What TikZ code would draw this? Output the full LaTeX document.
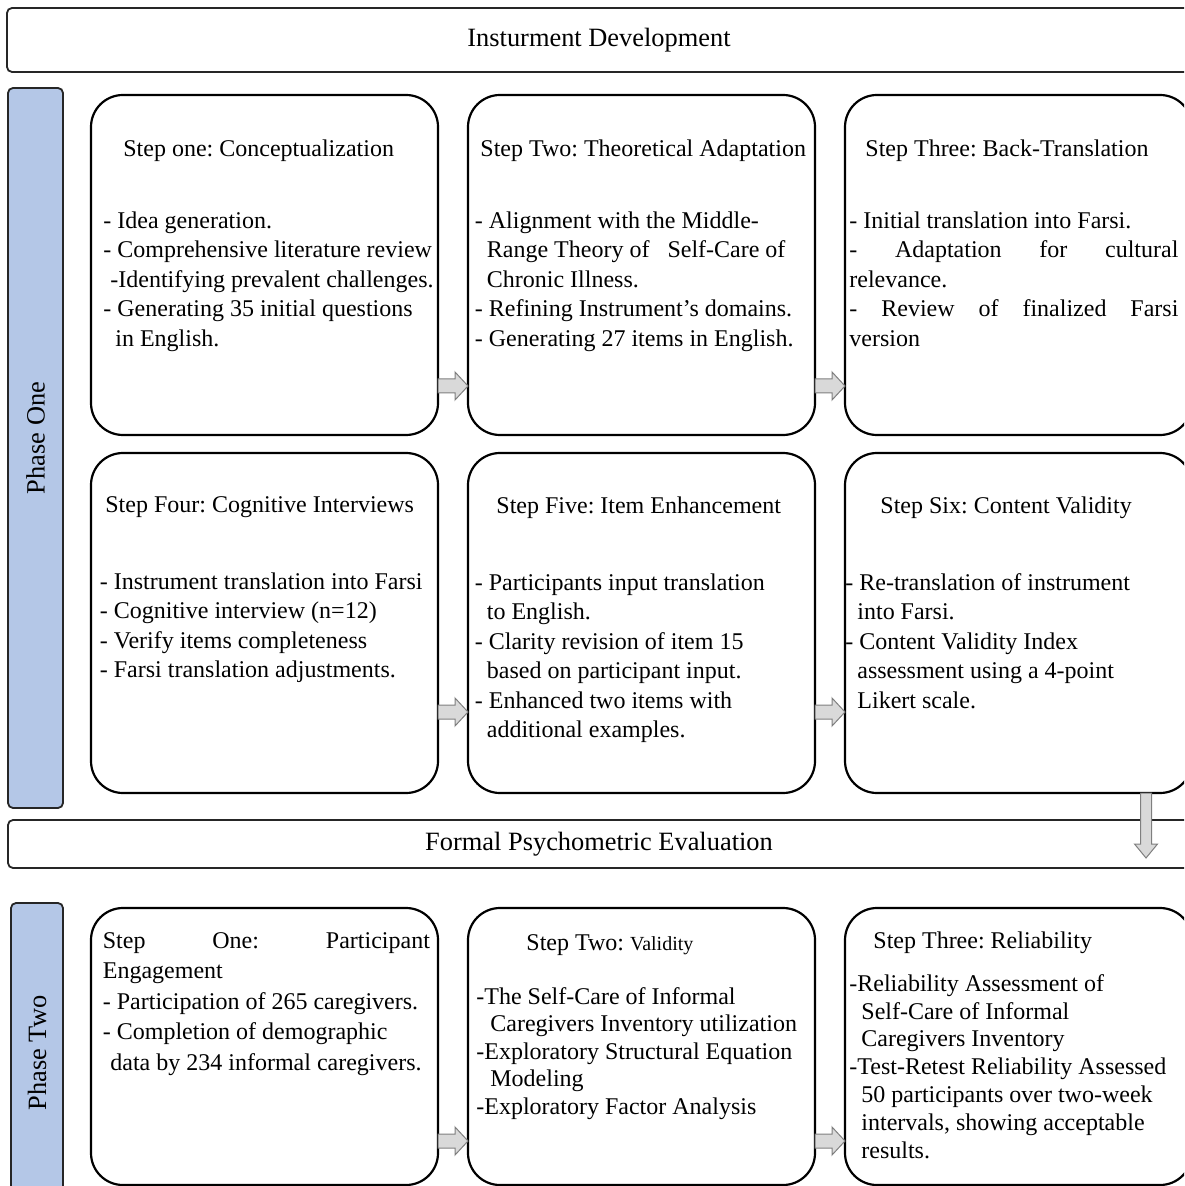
\documentclass[tikz,border=0pt]{standalone}
\usepackage{fontspec}
\setmainfont{Liberation Serif}
\usepackage{tikz}
\usetikzlibrary{calc,positioning}
\frenchspacing

\definecolor{phaseblue}{HTML}{B4C7E7}
\definecolor{arrowfill}{HTML}{D9D9D9}
\definecolor{arrowline}{HTML}{7F7F7F}

\newcommand{\bodyfont}{\fontsize{12pt}{14.75pt}\selectfont}
\newcommand{\headfont}{\fontsize{13.2pt}{15pt}\selectfont}

\tikzstyle{banner} = [rectangle, rounded corners=2.5pt, draw=black!85, line width=0.9pt, font=\headfont]
\tikzstyle{phasebar} = [rectangle, rounded corners=2.5pt, draw=black!85, line width=0.9pt, fill=phaseblue, minimum width=27.5pt]
\tikzstyle{phaselabel} = [rotate=90, inner sep=0pt, font=\headfont]
\tikzstyle{stepbox} = [rectangle, rounded corners=16pt, draw=black, line width=1.1pt, outer sep=0pt, minimum width=173.5pt, minimum height=170pt]
\tikzstyle{steptitle} = [anchor=north west, inner sep=0pt, font=\bodyfont]
\tikzstyle{steptext} = [anchor=north west, inner sep=0pt, align=left, font=\bodyfont]
\tikzstyle{rblock} = [fill=arrowfill, draw=arrowline, line width=0.5pt,
    to path={++(0,3.5pt) -- ++(8.5pt,0) -- ++(0,3.5pt) -- (\tikztotarget) -- ++(-6.5pt,-7pt) -- ++(0,3.5pt) -- ++(-8.5pt,0) -- cycle}]
\tikzstyle{dblock} = [fill=arrowfill, draw=arrowline, line width=0.5pt,
    to path={++(-2.75pt,0) -- ++(0,-25.5pt) -- ++(-3pt,0) -- (\tikztotarget) -- ++(5.75pt,7pt) -- ++(-3pt,0) -- ++(0,25.5pt) -- cycle}]

\begin{document}
\begin{tikzpicture}[x=0.5pt, y=0.5pt]
    \useasboundingbox (0,0) rectangle (1184,-1186);
    \clip (0,0) rectangle (1184,-1186);

    % banners and phase bars
    \node (dev) [banner, minimum width=592pt, minimum height=32pt] at (599,-40) {Insturment Development};
    \node (eval) [banner, minimum width=591pt, minimum height=24pt] at (599,-844) {Formal Psychometric Evaluation};
    \node (ph1) [phasebar, minimum height=360pt] at (35.5,-448) {};
    \node (ph2) [phasebar, minimum width=26pt, minimum height=148.5pt] at (37,-1051.5) {};
    \node (ph1lbl) [phaselabel] at (35.5,-438) {Phase One};
    \node (ph2lbl) [phaselabel] at (37,-1053) {Phase Two};

    % phase one steps
    \node (s1) [stepbox] at (264.5,-265) {};
    \node (s2) [stepbox, right=15pt of s1] {};
    \node (s3) [stepbox, right=15pt of s2] {};
    \node (s4) [stepbox, below=9pt of s1] {};
    \node (s5) [stepbox, right=15pt of s4] {};
    \node (s6) [stepbox, right=15pt of s5] {};

    % phase two steps
    \node (t1) [stepbox, minimum height=138.5pt] at (264.5,-1046.5) {};
    \node (t2) [stepbox, minimum height=138.5pt, right=15pt of t1] {};
    \node (t3) [stepbox, minimum height=138.5pt, right=15pt of t2] {};

    \node (s1h) [steptitle] at ([shift={(32,-44)}]s1.north west) {Step one: Conceptualization};
    \node (s1b) [steptext] at ([shift={(12,-116)}]s1.north west) {- Idea generation.\\- Comprehensive literature review\\\hspace*{3.5pt}-Identifying prevalent challenges.\\- Generating 35 initial questions\\\hspace*{6pt}in English.};

    \node (s2h) [steptitle] at ([shift={(12,-44)}]s2.north west) {Step Two: Theoretical Adaptation};
    \node (s2b) [steptext] at ([shift={(6.5,-116)}]s2.north west) {- Alignment with the Middle-\\\hspace*{6pt}Range Theory of\ \ \ Self-Care of\\\hspace*{6pt}Chronic Illness.\\- Refining Instrument’s domains.\\- Generating 27 items in English.};

    \node (s3h) [steptitle] at ([shift={(20,-44)}]s3.north west) {Step Three: Back-Translation};
    \node (s3b) [steptext] at ([shift={(4,-116)}]s3.north west) {- Initial translation into Farsi.\\\makebox[164.5pt][s]{- Adaptation for cultural}\\relevance.\\\makebox[164.5pt][s]{- Review of finalized Farsi}\\version};

    \node (s4h) [steptitle] at ([shift={(14,-43)}]s4.north west) {Step Four: Cognitive Interviews};
    \node (s4b) [steptext] at ([shift={(8.5,-119)}]s4.north west) {- Instrument translation into Farsi\\- Cognitive interview (n=12)\\- Verify items completeness\\- Farsi translation adjustments.};

    \node (s5h) [steptitle] at ([shift={(28,-43)}]s5.north west) {Step Five: Item Enhancement};
    \node (s5b) [steptext] at ([shift={(6.5,-120)}]s5.north west) {- Participants input translation\\\hspace*{6pt}to English.\\- Clarity revision of item 15\\\hspace*{6pt}based on participant input.\\- Enhanced two items with\\\hspace*{6pt}additional examples.};

    \node (s6h) [steptitle] at ([shift={(35,-43)}]s6.north west) {Step Six: Content Validity};
    \node (s6b) [steptext] at ([shift={(0,-120)}]s6.north west) {- Re-translation of instrument\\\hspace*{6pt}into Farsi.\\- Content Validity Index\\\hspace*{6pt}assessment using a 4-point\\\hspace*{6pt}Likert scale.};

    \node (t1b) [steptext, font=\fontsize{12pt}{15.25pt}\selectfont] at ([shift={(11.5,-24)}]t1.north west) {\makebox[163.5pt][s]{Step One: Participant}\\Engagement\\- Participation of 265 caregivers.\\- Completion of demographic\\\hspace*{3.75pt}data by 234 informal caregivers.};

    \node (t2h) [steptitle] at ([shift={(58,-26)}]t2.north west) {Step Two: {\fontsize{10pt}{12pt}\selectfont Validity}};
    \node (t2b) [steptext, font=\fontsize{12pt}{13.75pt}\selectfont] at ([shift={(8,-79)}]t2.north west) {-The Self-Care of Informal\\\hspace*{7pt}Caregivers Inventory utilization\\-Exploratory Structural Equation\\\hspace*{7pt}Modeling\\-Exploratory Factor Analysis};

    \node (t3h) [steptitle] at ([shift={(28,-23)}]t3.north west) {Step Three: Reliability};
    \node (t3b) [steptext, font=\fontsize{12pt}{13.9pt}\selectfont] at ([shift={(4,-66)}]t3.north west) {-Reliability Assessment of\\\hspace*{6pt}Self-Care of Informal\\\hspace*{6pt}Caregivers Inventory\\-Test-Retest Reliability Assessed\\\hspace*{6pt}50 participants over two-week\\\hspace*{6pt}intervals, showing acceptable\\\hspace*{6pt}results.};

    \draw [rblock] ([yshift=24.5pt]s1.south east) to ([yshift=24.5pt]s2.south west);
    \draw [rblock] ([yshift=24.5pt]s2.south east) to ([yshift=24.5pt]s3.south west);
    \draw [rblock] ([yshift=40.5pt]s4.south east) to ([yshift=40.5pt]s5.south west);
    \draw [rblock] ([yshift=40.5pt]s5.south east) to ([yshift=40.5pt]s6.south west);
    \draw [rblock] ([yshift=22pt]t1.south east) to ([yshift=22pt]t2.south west);
    \draw [rblock] ([yshift=22pt]t2.south east) to ([yshift=22pt]t3.south west);
    \draw [dblock] ([xshift=-23pt]s6.south east) to ([xshift=-23pt,yshift=-32.5pt]s6.south east);

\end{tikzpicture}
\end{document}
